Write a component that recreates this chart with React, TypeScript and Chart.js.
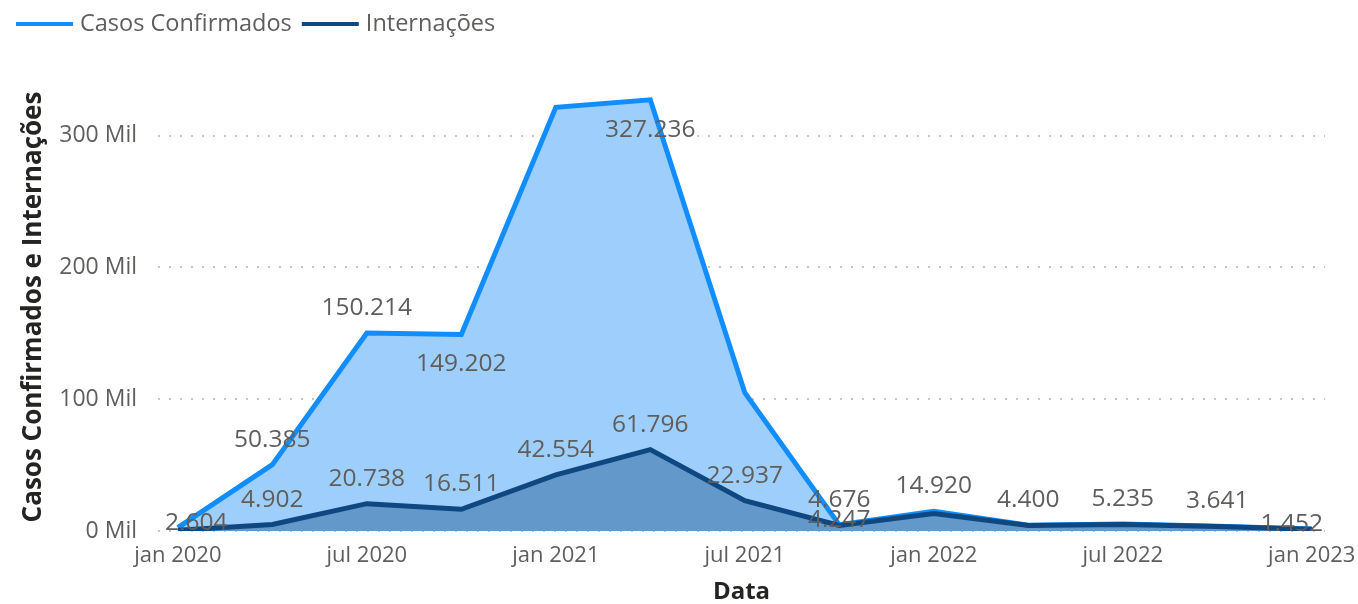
import React, { useEffect, useRef } from "react";
import { Chart, registerables } from "chart.js";

Chart.register(...registerables);

const periodLabels = [
  "jan 2020", "abr 2020", "jul 2020", "out 2020",
  "jan 2021", "abr 2021", "jul 2021", "out 2021",
  "jan 2022", "abr 2022", "jul 2022", "out 2022", "jan 2023",
];
const casosConfirmados = [2604, 50385, 150214, 149202, 321500, 327236, 105000, 4676, 14920, 4400, 5235, 3641, 1452];
const internacoes = [600, 4902, 20738, 16511, 42554, 61796, 22937, 4247, 13300, 4100, 4900, 3350, 1300];
// which points get a data label, and where (style only)
const casosLabelPlace = ["center", "above", "above", "below", "none", "below", "none", "above", "above", "above", "above", "above", "center"];
const internLabelPlace = ["none", "above", "above", "above", "above", "above", "above", "center", "none", "none", "none", "none", "none"];
const yTickValues = [0, 100000, 200000, 300000];

const FONT = "'Open Sans', 'Noto Sans', sans-serif";
const GRAY = "#605E5C";

const fmt = (v: number) => v.toLocaleString("de-DE");

const labelPlugin = {
  id: "pointLabels",
  afterDatasetsDraw(chart: any) {
    const ctx = chart.ctx;
    const area = chart.chartArea;
    const places = [casosLabelPlace, internLabelPlace];
    ctx.save();
    ctx.font = `24.5px ${FONT}`;
    ctx.fillStyle = GRAY;
    ctx.textAlign = "center";
    ctx.textBaseline = "middle";
    chart.data.datasets.forEach((ds: any, di: number) => {
      const meta = chart.getDatasetMeta(di);
      meta.data.forEach((pt: any, i: number) => {
        const place = places[di][i];
        if (place === "none") return;
        const text = fmt(ds.data[i].y);
        const w = ctx.measureText(text).width;
        let x = pt.x;
        if (x - w / 2 < area.left + 7) x = area.left + 7 + w / 2;
        if (x + w / 2 > area.right - 2) x = area.right - 2 - w / 2;
        let y = pt.y;
        if (place === "above") y -= 25;
        else if (place === "below") y += 30;
        else y -= 5;
        ctx.fillText(text, x, y);
      });
    });
    ctx.restore();
  },
};

const legendPlugin = {
  id: "customLegend",
  afterDraw(chart: any) {
    const ctx = chart.ctx;
    ctx.save();
    ctx.font = `23.5px ${FONT}`;
    ctx.textBaseline = "middle";
    let x = 16;
    const y = 24;
    chart.data.datasets.forEach((ds: any) => {
      ctx.fillStyle = ds.borderColor;
      ctx.fillRect(x, y - 2, 57, 4);
      x += 64;
      ctx.fillStyle = GRAY;
      ctx.fillText(ds.label, x, y);
      x += ctx.measureText(ds.label).width + 10;
    });
    ctx.restore();
  },
};

export default function App() {
  const ref = useRef<HTMLCanvasElement>(null);
  useEffect(() => {
    document.body.style.margin = "0";
    const chart = new Chart(ref.current!, {
      type: "line",
      data: {
        datasets: [
          {
            label: "Casos Confirmados",
            data: casosConfirmados.map((v, i) => ({ x: i, y: v })),
            borderColor: "#118DFF",
            backgroundColor: "#9ECFFC",
            borderWidth: 5,
            fill: "origin",
            pointRadius: 0,
            tension: 0,
            order: 2,
          },
          {
            label: "Internações",
            data: internacoes.map((v, i) => ({ x: i, y: v })),
            borderColor: "#0F4780",
            backgroundColor: "#6398CB",
            borderWidth: 5,
            fill: "origin",
            pointRadius: 0,
            tension: 0,
            order: 1,
          },
        ],
      },
      options: {
        animation: false,
        responsive: false,
        maintainAspectRatio: false,
        layout: { padding: { top: 83, right: 33, left: 0, bottom: 0 } },
        plugins: { legend: { display: false }, tooltip: { enabled: false } },
        scales: {
          x: {
            type: "linear",
            min: -0.21,
            max: 12.14,
            afterBuildTicks: (s: any) => {
              s.ticks = periodLabels.map((_, i) => i).filter((i) => i % 2 === 0).map((v) => ({ value: v }));
            },
            afterFit: (s: any) => {
              s.height = 73;
              s.paddingLeft = 0;
              s.paddingRight = 0;
            },
            ticks: {
              autoSkip: false,
              maxRotation: 0,
              padding: 12,
              color: GRAY,
              font: { family: FONT, size: 22 },
              callback: (v: any) => periodLabels[v as number] ?? "",
            },
            grid: { display: false, drawTicks: false },
            border: { display: false },
            title: {
              display: true,
              text: "Data",
              color: "#252423",
              font: { family: FONT, size: 24, weight: "bold" },
              padding: { top: 0, bottom: -3 },
            },
          },
          y: {
            min: 0,
            max: 340000,
            afterBuildTicks: (s: any) => {
              s.ticks = yTickValues.map((v) => ({ value: v }));
            },
            afterFit: (s: any) => {
              s.width = 158;
              s.paddingTop = 0;
              s.paddingBottom = 0;
            },
            ticks: {
              padding: 21,
              color: GRAY,
              font: { family: FONT, size: 23 },
              callback: (v: any) => `${Math.round((v as number) / 1000)} Mil`,
            },
            grid: {
              color: "#C8C6C4",
              lineWidth: 2,
              drawTicks: false,
            },
            border: { display: false, dash: [2, 9] },
            title: {
              display: true,
              text: "Casos Confirmados e Internações",
              color: "#252423",
              font: { family: FONT, size: 26, weight: "bold" },
              padding: { top: 18, bottom: 0 },
            },
          },
        },
      },
      plugins: [labelPlugin, legendPlugin],
    } as any);
    return () => chart.destroy();
  }, []);
  return (
    <div style={{ position: "absolute", left: 0, top: 0, width: 1358, height: 604 }}>
      <canvas ref={ref} width={1358} height={604} style={{ width: 1358, height: 604 }} />
    </div>
  );
}
